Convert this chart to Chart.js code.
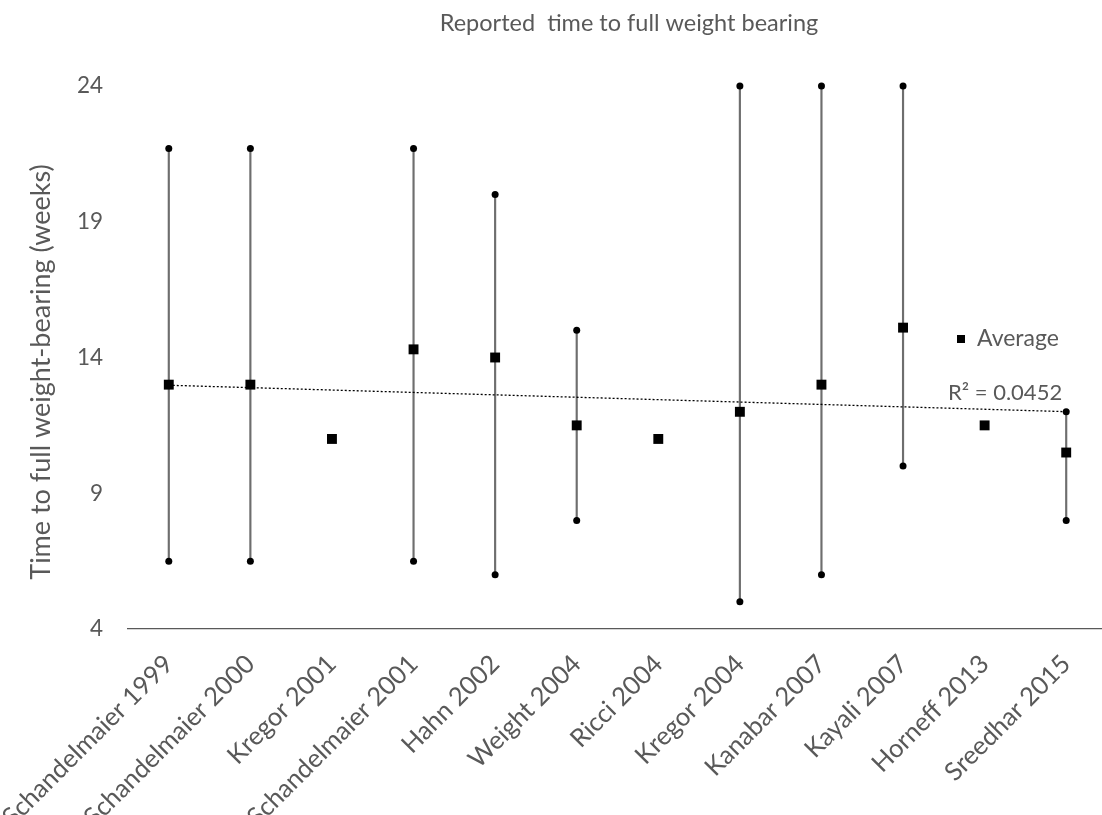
<!DOCTYPE html>
<html>
<head>
<meta charset="utf-8">
<title>Reported time to full weight bearing</title>
<script src="https://cdn.jsdelivr.net/npm/chart.js@4.4.1/dist/chart.umd.min.js"></script>
<style>
    html, body { margin: 0; padding: 0; background: #ffffff; overflow: hidden; }
    #wrap { position: relative; width: 1114px; height: 815px; }
    canvas { display: block; }
</style>
</head>
<body>
<div id="wrap"><canvas id="chart" width="1114" height="815"></canvas></div>
<script>
// Studies on the x axis
const studies = [
    'Schandelmaier 1999', 'Schandelmaier 2000', 'Kregor 2001', 'Schandelmaier 2001',
    'Hahn 2002', 'Weight 2004', 'Ricci 2004', 'Kregor 2004',
    'Kanabar 2007', 'Kayali 2007', 'Horneff 2013', 'Sreedhar 2015'
];

// Reported weeks to full weight bearing (average and range)
const avgWeeks = [13, 13, 11, 14.3, 14, 11.5, 11, 12, 13, 15.1, 11.5, 10.5];
const minWeeks = [6.5, 6.5, null, 6.5, 6, 8, null, 5, 6, 10, null, 8];
const maxWeeks = [21.7, 21.7, null, 21.7, 20, 15, null, 24, 24, 24, null, 12];

const yTicks = [4, 9, 14, 19, 24];
const r2Label = 'R\u00B2 = 0.0452';

const FONT = 'Lato';
const TEXT = '#595959';

// linear trend of the averages (x = 1..n)
function trendLine(values) {
    const n = values.length;
    const xs = values.map((_, i) => i + 1);
    const mx = xs.reduce((a, b) => a + b, 0) / n;
    const my = values.reduce((a, b) => a + b, 0) / n;
    let sxy = 0, sxx = 0;
    xs.forEach((x, i) => {
        sxy += (x - mx) * (values[i] - my);
        sxx += (x - mx) * (x - mx);
    });
    const slope = sxy / sxx;
    return xs.map(x => my + slope * (x - mx));
}

// titles, legend and R² label
const annotations = {
    id: 'annotations',
    afterDraw(chart) {
        const ctx = chart.ctx;
        ctx.save();
        ctx.fillStyle = TEXT;
        ctx.textBaseline = 'middle';

        ctx.font = `23.5px ${FONT}`;
        ctx.textAlign = 'center';
        ctx.fillText('Reported  time to full weight bearing', 629, 23);

        ctx.save();
        ctx.font = `27px ${FONT}`;
        ctx.translate(41, 372);
        ctx.rotate(-Math.PI / 2);
        ctx.fillText('Time to full weight-bearing (weeks)', 0, 0);
        ctx.restore();

        ctx.textAlign = 'left';
        ctx.font = `23px ${FONT}`;
        ctx.fillStyle = '#000000';
        ctx.fillRect(957, 335, 8, 8);
        ctx.fillStyle = TEXT;
        ctx.fillText('Average', 977, 339);
        ctx.font = `22px ${FONT}`;
        ctx.fillText(r2Label, 948, 393);
        ctx.restore();
    }
};

new Chart(document.getElementById('chart'), {
    type: 'bar',
    data: {
        labels: studies,
        datasets: [
            {
                label: 'Average',
                type: 'line',
                data: avgWeeks,
                showLine: false,
                pointStyle: 'rect',
                pointRadius: 7,
                backgroundColor: '#000000',
                borderColor: '#000000',
                borderWidth: 0,
                clip: false,
                order: 0
            },
            {
                label: 'Max',
                type: 'line',
                data: maxWeeks,
                showLine: false,
                pointStyle: 'circle',
                pointRadius: 3.5,
                backgroundColor: '#000000',
                borderWidth: 0,
                clip: false,
                order: 1
            },
            {
                label: 'Min',
                type: 'line',
                data: minWeeks,
                showLine: false,
                pointStyle: 'circle',
                pointRadius: 3.5,
                backgroundColor: '#000000',
                borderWidth: 0,
                clip: false,
                order: 1
            },
            {
                label: 'Trend',
                type: 'line',
                data: trendLine(avgWeeks),
                borderColor: '#000000',
                borderWidth: 1.3,
                borderDash: [2, 2],
                pointRadius: 0,
                fill: false,
                order: 2
            },
            {
                label: 'Range',
                data: studies.map((_, i) => minWeeks[i] == null ? null : [minWeeks[i], maxWeeks[i]]),
                backgroundColor: '#6e6e6e',
                barThickness: 1.5,
                clip: false,
                order: 3
            }
        ]
    },
    options: {
        responsive: false,
        animation: false,
        layout: { padding: { top: 86, right: 3, left: 0, bottom: 0 } },
        plugins: {
            legend: { display: false },
            title: { display: false },
            tooltip: { enabled: false }
        },
        scales: {
            x: {
                offset: true,
                grid: { display: false, drawTicks: false },
                border: { display: true, color: '#595959', width: 1.3 },
                ticks: {
                    color: TEXT,
                    font: { family: FONT, size: 25.5 },
                    minRotation: 45,
                    maxRotation: 45,
                    autoSkip: false,
                    padding: 20
                },
                afterFit(scale) {
                    scale.height = 186;
                    // long rotated labels may run off the left edge, as in the original
                    scale.paddingLeft = 0;
                    scale.paddingRight = 0;
                }
            },
            y: {
                min: 4,
                max: 24,
                afterBuildTicks(scale) { scale.ticks = yTicks.map(v => ({ value: v })); },
                grid: { display: false, drawTicks: false },
                border: { display: false },
                ticks: {
                    color: TEXT,
                    font: { family: FONT, size: 22.5 },
                    padding: 25
                },
                afterFit(scale) { scale.width = 128; }
            }
        }
    },
    plugins: [annotations]
});
</script>
</body>
</html>
